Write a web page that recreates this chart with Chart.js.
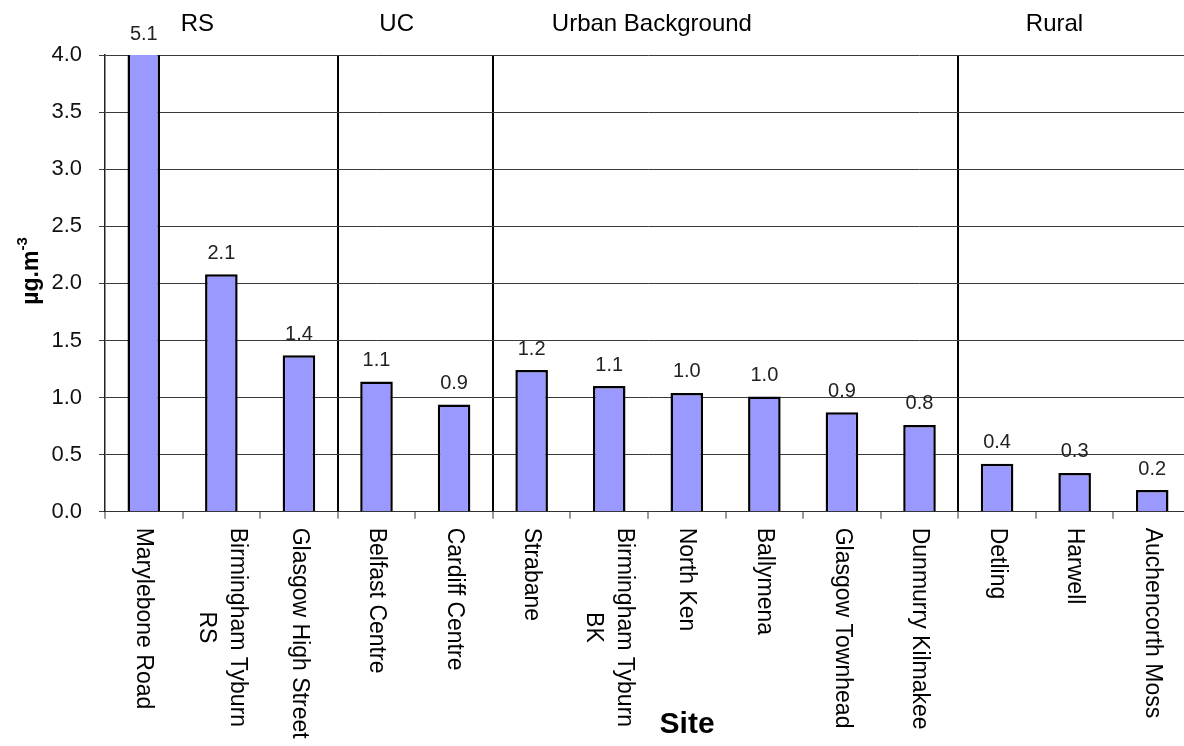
<!DOCTYPE html>
<html>
<head>
<meta charset="utf-8">
<script src="https://cdn.jsdelivr.net/npm/chart.js@4.4.1/dist/chart.umd.min.js"></script>
<style>
  html, body { margin: 0; padding: 0; background: #fff; overflow: hidden; }
  #wrap { width: 1192px; height: 746px; }
</style>
</head>
<body>
<div id="wrap"><canvas id="pmChart" width="1192" height="746"></canvas></div>
<script>
// site names (multi-line labels as arrays)
const sites = [
    'Marylebone Road',
    ['Birmingham Tyburn', 'RS'],
    'Glasgow High Street',
    'Belfast Centre',
    'Cardiff Centre',
    'Strabane',
    ['Birmingham Tyburn', 'BK'],
    'North Ken',
    'Ballymena',
    'Glasgow Townhead',
    'Dunmurry Kilmakee',
    'Detling',
    'Harwell',
    'Auchencorth Moss'
];
const concentrations = [5.1, 2.08, 1.37, 1.14, 0.94, 1.24, 1.1, 1.04, 1.01, 0.87, 0.76, 0.42, 0.34, 0.19];
const yTicks = [0, 0.5, 1.0, 1.5, 2.0, 2.5, 3.0, 3.5, 4.0];

// site type groups and the category where each group starts
const groupNames = ['RS', 'UC', 'Urban Background', 'Rural'];
const groupStarts = [0, 3, 5, 11];
// where the group headings sit (in category units)
const groupLabelPos = [0.69, 3.26, 6.55, 11.74];

const FONT = '"Liberation Sans", Arial, sans-serif';

const decor = {
    id: 'decor',
    afterDraw(chart) {
        const ctx = chart.ctx;
        const area = chart.chartArea;
        const xs = chart.scales.x;
        const meta = chart.getDatasetMeta(0);

        ctx.save();
        // value labels over the bars
        ctx.font = '20px ' + FONT;
        ctx.fillStyle = '#222';
        ctx.textAlign = 'center';
        ctx.textBaseline = 'middle';
        meta.data.forEach((bar, i) => {
            const top = Math.max(bar.y, area.top);
            ctx.fillText(concentrations[i].toFixed(1), bar.x, top - 21);
        });

        // rotated site names (read top to bottom)
        ctx.font = '23px ' + FONT;
        ctx.fillStyle = '#000';
        sites.forEach((s, i) => {
            const lines = Array.isArray(s) ? s : [s];
            const x = xs.getPixelForValue(i);
            ctx.save();
            ctx.translate(x, area.bottom + 16);
            ctx.rotate(Math.PI / 2);
            const widths = lines.map(l => ctx.measureText(l).width);
            const maxW = Math.max(...widths);
            const lh = 31;
            lines.forEach((l, k) => {
                const off = (k - (lines.length - 1) / 2) * lh;
                ctx.textAlign = 'left';
                ctx.textBaseline = 'middle';
                ctx.fillText(l, (maxW - widths[k]) / 2, off);
            });
            ctx.restore();
        });

        // group headings
        ctx.font = '24px ' + FONT;
        ctx.textAlign = 'center';
        ctx.textBaseline = 'middle';
        groupNames.forEach((g, i) => {
            ctx.fillText(g, xs.getPixelForValue(groupLabelPos[i]), 24);
        });

        // x axis title
        ctx.font = 'bold 30px ' + FONT;
        ctx.fillText('Site', area.left + (area.right - area.left) * 0.536, 725);

        // y axis title with superscript
        ctx.save();
        ctx.translate(32, 271);
        ctx.rotate(-Math.PI / 2);
        ctx.font = 'bold 23px ' + FONT;
        const main = 'µg.m';
        const wMain = ctx.measureText(main).width;
        ctx.font = 'bold 15px ' + FONT;
        const sup = '-3';
        const wSup = ctx.measureText(sup).width;
        const startX = -(wMain + wSup) / 2;
        ctx.textAlign = 'left';
        ctx.font = 'bold 23px ' + FONT;
        ctx.fillText(main, startX, 0);
        ctx.font = 'bold 15px ' + FONT;
        ctx.fillText(sup, startX + wMain, -9);
        ctx.restore();

        ctx.restore();
    }
};

const ctx = document.getElementById('pmChart').getContext('2d');

new Chart(ctx, {
    type: 'bar',
    data: {
        labels: sites,
        datasets: [{
            data: concentrations,
            backgroundColor: '#9999ff',
            borderColor: '#000000',
            borderWidth: 2.5,
            borderSkipped: 'start',
            categoryPercentage: 1.0,
            barPercentage: 0.42,
            clip: 0
        }]
    },
    options: {
        responsive: false,
        devicePixelRatio: 1,
        animation: false,
        layout: { padding: { top: 55, right: 1, left: 0, bottom: 0 } },
        plugins: {
            legend: { display: false },
            tooltip: { enabled: false }
        },
        scales: {
            x: {
                afterFit(scale) { scale.height = 234.3; },
                ticks: { display: false },
                grid: {
                    offset: true,
                    drawOnChartArea: true,
                    color: c => groupStarts.includes(c.index) && c.index > 0 ? '#000000' : 'rgba(0,0,0,0)',
                    lineWidth: 2,
                    tickColor: '#333333',
                    tickLength: 7,
                    tickWidth: 1
                },
                border: { display: true, color: '#333333', width: 1 }
            },
            y: {
                min: 0,
                max: 4,
                afterFit(scale) { scale.width = 105; },
                afterBuildTicks(scale) { scale.ticks = yTicks.map(v => ({ value: v })); },
                ticks: {
                    font: { family: FONT, size: 22 },
                    color: '#111',
                    padding: 17,
                    callback: v => v.toFixed(1)
                },
                grid: {
                    color: '#3a3a3a',
                    lineWidth: 1,
                    tickLength: 6
                },
                border: { display: true, color: '#222222', width: 1.5 }
            }
        }
    },
    plugins: [decor]
});
</script>
</body>
</html>
